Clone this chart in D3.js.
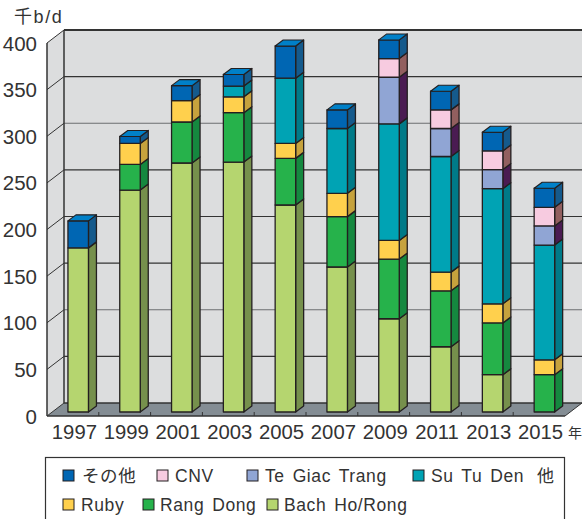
<!DOCTYPE html>
<html><head><meta charset="utf-8">
<script src="https://d3js.org/d3.v7.min.js"></script>
<style>html,body{margin:0;padding:0;background:#fff;overflow:hidden}
text{font-family:"Liberation Sans","Noto Sans CJK JP",sans-serif;fill:#333}</style>
</head><body><svg id="c" width="582" height="519"></svg>
<script>
const years=["1997","1999","2001","2003","2005","2007","2009","2011","2013","2015"];
const seriesNames=["Bach Ho/Rong","Rang Dong","Ruby","Su Tu Den","Te Giac Trang","CNV","その他"];
const bachHo=[176,238,267,268,222,155.5,100,70,40,0];
const rangDong=[0,27.5,44,53,50,54,64,60,55.5,40];
const ruby=[0,22.5,23,17,16,25,20,20,20.5,16];
const suTuDen=[0,0,0,11.5,70,69.5,125,124,123.5,123];
const teGiacTrang=[0,0,0,0,0,0,50,30,20.5,20.5];
const cnv=[0,0,0,0,0,0,20,20,20,20];
const other=[29,7.5,16,12.5,34.5,20,20,20,20,20.5];
const yTicks=[0,50,100,150,200,250,300,350,400];
const stacks=[bachHo,rangDong,ruby,suTuDen,teGiacTrang,cnv,other];
const fronts=["#b5d56f","#26b24b","#ffd04d","#00a3b4","#90a5d4","#f7cbe0","#0066b3"];
const sides=["#76904c","#15883f","#c6a23d","#007a88","#4a1b52","#925f5f","#155a8c"];
const topColor="#0080c8", line="#231f20";

const x=d3.scaleBand().domain(years).range([47,565]);
const y=d3.scaleLinear().domain([0,400]).range([416,43]);
const wallDx=17, wallDy=-13, barDx=5.3, barDy=-4, barW=20.5, sideDx=8, sideDy=-6;
const svg=d3.select("#c");
const poly=(pts,fill,stroke,sw)=>svg.append("polygon").attr("points",pts.map(p=>p.join(",")).join(" "))
  .attr("fill",fill).attr("stroke",stroke||"none").attr("stroke-width",sw||0).attr("stroke-linejoin","round");
const L=47,R=565,B=y(0),T=y(400);
// back wall, side wall, floor
poly([[L+wallDx,T+wallDy],[R+wallDx+2,T+wallDy],[R+wallDx+2,B+wallDy],[L+wallDx,B+wallDy]],"#dcddde");
poly([[L,T],[L+wallDx,T+wallDy],[L+wallDx,B+wallDy],[L,B]],"#dcddde");
poly([[L,B],[L+wallDx,B+wallDy],[R+wallDx,B+wallDy],[R,B]],"#848d94");
// gridlines
yTicks.forEach(t=>{
  const g=y(t);
  if(t>0) svg.append("line").attr("x1",L+wallDx).attr("x2",582).attr("y1",g+wallDy).attr("y2",g+wallDy).attr("stroke",t%100==0&&t!=400&&t!=200?"#6d6e71":"#333").attr("stroke-width",t==400?2:1.2);
  if(t>0) svg.append("line").attr("x1",L).attr("x2",L+wallDx).attr("y1",g).attr("y2",g+wallDy).attr("stroke","#333").attr("stroke-width",1);
});
svg.append("line").attr("x1",L+wallDx).attr("x2",L+wallDx).attr("y1",T+wallDy).attr("y2",B+wallDy).attr("stroke","#333").attr("stroke-width",1.5);
svg.append("line").attr("x1",L+wallDx).attr("x2",R+wallDx).attr("y1",B+wallDy).attr("y2",B+wallDy).attr("stroke","#333").attr("stroke-width",1.5);
svg.append("line").attr("x1",R).attr("x2",R+wallDx).attr("y1",B).attr("y2",B+wallDy).attr("stroke","#333").attr("stroke-width",1);
svg.append("line").attr("x1",L).attr("x2",L).attr("y1",T).attr("y2",B).attr("stroke","#333").attr("stroke-width",1.5);
svg.append("line").attr("x1",L).attr("x2",L+wallDx).attr("y1",B).attr("y2",B+wallDy).attr("stroke","#333").attr("stroke-width",1);
svg.append("line").attr("x1",L).attr("x2",R).attr("y1",B).attr("y2",B).attr("stroke","#333").attr("stroke-width",1.5);
// x ticks on the floor front edge
years.forEach(c=>{
  const px=x(c);
  if(c!==years[0]) svg.append("line").attr("x1",px).attr("x2",px).attr("y1",B).attr("y2",B-4).attr("stroke","#333");
});
// bars
years.forEach((c,i)=>{
  const x0=x(c)+x.bandwidth()/2-barW/2+barDx;
  const x1=x0+barW;
  let acc=0, lastTop=null;
  stacks.forEach((s,k)=>{
    const v=s[i]; if(!v) return;
    const yb=y(acc)+barDy, yt=y(acc+v)+barDy;
    poly([[x1,yb],[x1+sideDx,yb+sideDy],[x1+sideDx,yt+sideDy],[x1,yt]],sides[k],line,1.3);
    poly([[x0,yb],[x1,yb],[x1,yt],[x0,yt]],fronts[k],line,1.3);
    acc+=v; lastTop=yt;
  });
  poly([[x0,lastTop],[x1,lastTop],[x1+sideDx,lastTop+sideDy],[x0+sideDx,lastTop+sideDy]],topColor,line,1.1);
});
// tick labels
yTicks.forEach(t=>svg.append("text").attr("x",37).attr("y",y(t)+7.5).attr("text-anchor","end")
  .style("font-size","20.5px").text(t));
years.forEach(c=>svg.append("text").attr("x",x(c)+x.bandwidth()/2+1.5).attr("y",439).attr("text-anchor","middle")
  .style("font-size","20.3px").text(c));
svg.append("text").attr("x",568).attr("y",438).style("font-size","14px").text("年");
svg.append("text").attr("x",14).attr("y",23).style("font-size","18px").style("letter-spacing","1.6px").text("千b/d");
// legend
svg.append("rect").attr("x",45.5).attr("y",457.5).attr("width",519).attr("height",70).attr("fill","#fff").attr("stroke","#333").attr("stroke-width",1.2);
const legendOrder=[
 {k:6,sx:63,tx:82,row:0},{k:5,sx:157,tx:175,row:0},{k:4,sx:247,tx:265,row:0},{k:3,sx:413,tx:431,row:0},
 {k:2,sx:63,tx:81,row:1},{k:1,sx:143,tx:160,row:1},{k:0,sx:267,tx:284,row:1}];
const rowY=[476,505];
legendOrder.forEach(d=>{
  svg.append("rect").attr("x",d.sx).attr("y",rowY[d.row]-6).attr("width",11).attr("height",11)
    .attr("fill",fronts[d.k]).attr("stroke",line).attr("stroke-width",1);
  svg.append("text").attr("x",d.tx).attr("y",rowY[d.row]+6).style("font-size","17.5px").style("letter-spacing","0.6px").style("word-spacing","2.5px").text(seriesNames[d.k]);
});
svg.append("text").attr("x",537).attr("y",rowY[0]+6).style("font-size","17px").text("他");
</script></body></html>
